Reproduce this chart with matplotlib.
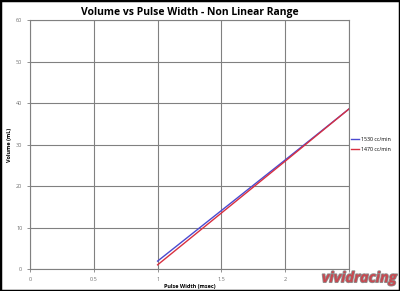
import matplotlib.pyplot as plt
from matplotlib.patches import Rectangle
import matplotlib.patheffects as pe

# data
pulse_ms = [1.0, 1.5, 2.0, 2.5]
vol_1530 = [1.9, 14.1, 26.3, 38.6]
vol_1470 = [1.0, 13.5, 26.0, 38.6]
series_labels = ["1530 cc/min", "1470 cc/min"]
x_ticks = [0, 0.5, 1, 1.5, 2, 2.5]
x_tick_labels = ["0", "0.5", "1", "1.5", "2", "2.5"]
y_ticks = [0, 10, 20, 30, 40, 50, 60]

plt.rcParams["font.family"] = ["Open Sans", "DejaVu Sans"]

fig = plt.figure(figsize=(4.0, 2.91), dpi=100)
ax = fig.add_axes([0.075, 0.0756, 0.7975, 0.855])

ax.plot(pulse_ms, vol_1530, color="#4a4ad0", lw=1.0, label=series_labels[0])
ax.plot(pulse_ms, vol_1470, color="#d83040", lw=1.0, label=series_labels[1])

ax.set_xlim(0, 2.5)
ax.set_ylim(0, 60)
ax.set_xticks(x_ticks)
ax.set_xticklabels(x_tick_labels)
ax.set_yticks(y_ticks)
ax.grid(True, color="#808080", lw=0.8)
ax.tick_params(labelsize=4, colors="#808080", length=2, width=0.6, labelcolor="#707070")
for s in ax.spines.values():
    s.set_color("#808080")
    s.set_linewidth(0.8)

ax.set_title("Volume vs Pulse Width - Non Linear Range", fontsize=7.5, fontweight="bold", pad=4)
ax.set_xlabel("Pulse Width (msec)", fontsize=4, fontweight="bold", labelpad=2)
ax.set_ylabel("Volume (mL)", fontsize=4, fontweight="bold")
ax.yaxis.set_label_coords(-0.055, 0.5)

ax.legend(loc="center left", bbox_to_anchor=(1.0, 0.5), frameon=False,
          fontsize=3.8, handlelength=1.4, labelspacing=1.0, handletextpad=0.4,
          borderaxespad=0.2, borderpad=0.2)

# watermark
fig.text(0.993, 0.02, "vividracing", fontsize=10.5, fontweight="bold", style="italic",
         color="#c84850", ha="right", va="bottom",
         path_effects=[pe.withStroke(linewidth=1.2, foreground="#909090")])

# outer border
fig.patches.append(Rectangle((0, 0), 1, 1, transform=fig.transFigure, fill=False,
                             edgecolor="black", lw=2.5))

fig.savefig("out.png", dpi=100)
